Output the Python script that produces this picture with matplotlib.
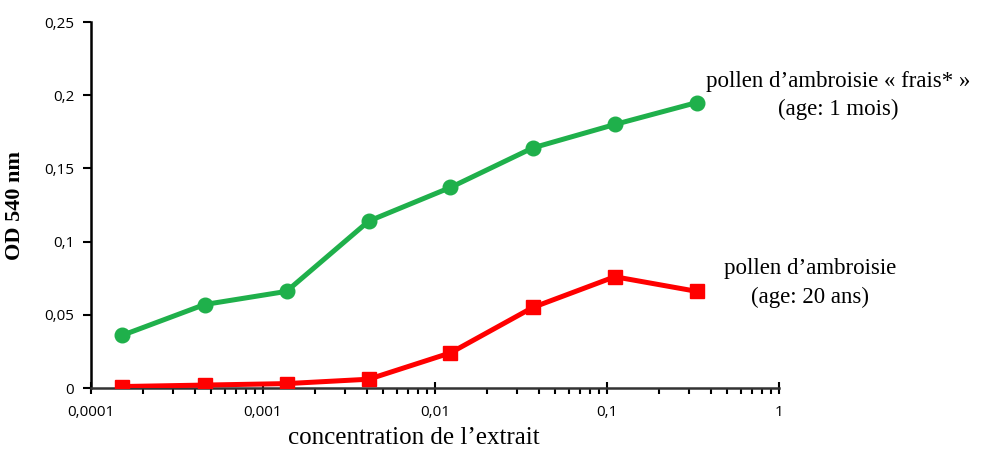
import matplotlib.pyplot as plt
import matplotlib.ticker as mticker
import numpy as np

# 3-fold serial dilutions of the extract
concentration = [0.000152, 0.000457, 0.00137, 0.00412, 0.0123, 0.037, 0.111, 0.333]
od_frais = [0.036, 0.057, 0.066, 0.114, 0.137, 0.164, 0.180, 0.195]
od_20ans = [0.001, 0.002, 0.003, 0.006, 0.024, 0.055, 0.076, 0.066]

x_ticks = [0.0001, 0.001, 0.01, 0.1, 1]
x_labels = ["0,0001", "0,001", "0,01", "0,1", "1"]
y_ticks = [0, 0.05, 0.1, 0.15, 0.2, 0.25]
y_labels = ["0", "0,05", "0,1", "0,15", "0,2", "0,25"]

green = "#1fb04b"
red = "#ff0000"

fig = plt.figure(figsize=(9.98, 4.5), dpi=100)
ax = fig.add_axes([91/998, 62/450, 688/998, 366/450])

ax.plot(concentration, od_frais, color=green, lw=3.6, marker="o", ms=10.5, zorder=3)
ax.plot(concentration, od_20ans, color=red, lw=3.6, marker="s", ms=10.5, zorder=3)

ax.set_xscale("log")
ax.set_xlim(0.0001, 1)
ax.set_ylim(0, 0.25)
ax.set_xticks(x_ticks)
ax.set_xticklabels(x_labels)
ax.xaxis.set_minor_locator(mticker.LogLocator(base=10, subs=np.arange(2, 10)))
ax.xaxis.set_minor_formatter(mticker.NullFormatter())
ax.set_yticks(y_ticks)
ax.set_yticklabels(y_labels)

for s in ["top", "right"]:
    ax.spines[s].set_visible(False)
ax.spines["left"].set_linewidth(1.8)
ax.spines["bottom"].set_linewidth(1.8)
ax.spines["left"].set_color("black")
ax.spines["bottom"].set_color("#333333")

ax.tick_params(axis="y", which="major", direction="out", length=6, width=1.5,
               labelsize=11, pad=6, labelfontfamily="Open Sans")
ax.tick_params(axis="x", which="major", direction="inout", length=8, width=1.5,
               labelsize=11, pad=8, labelfontfamily="Open Sans")
ax.tick_params(axis="x", which="minor", direction="out", length=4, width=1.5)

fig.text(414/998, 12/450, "concentration de l\u2019extrait", family="Liberation Serif",
         fontsize=18, ha="center", va="center")
ax.set_ylabel("OD 540 nm", family="Liberation Serif", fontsize=16,
              fontweight="bold", labelpad=14)

fig.text(0.84, 0.818, "pollen d\u2019ambroisie \u00ab frais* \u00bb",
         family="Liberation Serif", fontsize=16.5, ha="center", va="center")
fig.text(0.84, 0.756, "(age: 1 mois)",
         family="Liberation Serif", fontsize=16.5, ha="center", va="center")
fig.text(0.812, 0.404, "pollen d\u2019ambroisie",
         family="Liberation Serif", fontsize=16.5, ha="center", va="center")
fig.text(0.812, 0.34, "(age: 20 ans)",
         family="Liberation Serif", fontsize=16.5, ha="center", va="center")

fig.savefig("out.png", dpi=100)
